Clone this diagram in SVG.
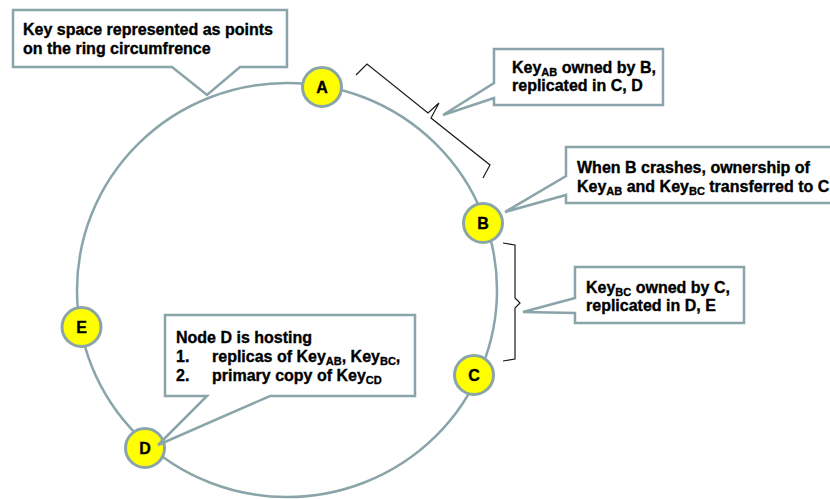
<svg xmlns="http://www.w3.org/2000/svg" width="830" height="499" viewBox="0 0 830 499">
  <style>
    .ring { fill: none; stroke: #8aa5a9; stroke-width: 2.5; }
    .node circle { fill: #ffff00; stroke: #8aa5a9; stroke-width: 3; }
    .node text { font-family: "Liberation Sans", Arial, sans-serif; font-weight: bold; font-size: 16px; fill: #000; stroke: #000; stroke-width: 0.35; text-anchor: middle; }
    .callout path { fill: #ffffff; stroke: #8aa5a9; stroke-width: 2.5; stroke-linejoin: miter; }
    .callout text { font-family: "Liberation Sans", Arial, sans-serif; font-weight: bold; font-size: 16px; fill: #000; stroke: #000; stroke-width: 0.35; }
    .sub { font-size: 11px; }
    .brace { fill: none; stroke: #1a1a1a; stroke-width: 1.2; stroke-linejoin: miter; }
  </style>

  <!-- hash ring and key-range braces -->
  <g id="connectors">
    <ellipse class="ring" cx="287" cy="290" rx="210" ry="207"/>
    <path class="brace" d="M356,75 L367,64 L428,113 L439,103 L431,118 L490,165 L483,178"/>
    <path class="brace" d="M503,243 L515,245 L515,298 L520,303 L515,308 L515,359 L503,361"/>
  </g>

  <!-- ring members -->
  <g id="node-A" class="node"><circle cx="322" cy="87" r="19.5"/><text x="322" y="93">A</text></g>
  <g id="node-B" class="node"><circle cx="483" cy="223" r="19.5"/><text x="483" y="229">B</text></g>
  <g id="node-C" class="node"><circle cx="474" cy="375" r="19.5"/><text x="474" y="381">C</text></g>
  <g id="node-D" class="node"><circle cx="145" cy="448" r="19.5"/><text x="145" y="454">D</text></g>
  <g id="node-E" class="node"><circle cx="81.5" cy="327" r="19.5"/><text x="81.5" y="333">E</text></g>

  <!-- callouts -->
  <g id="note-keyspace" class="callout">
    <path d="M13,10 H287 V67 H240 L207,95 L172,67 H13 Z"/>
    <text x="23" y="35">Key space represented as points</text>
    <text x="23" y="54">on the ring circumfrence</text>
  </g>

  <g id="note-keyAB" class="callout">
    <path d="M494,49 H663 V105 H494 V98 L443,115 L494,83 Z"/>
    <text x="512" y="73">Key<tspan class="sub" dy="3">AB</tspan><tspan dy="-3"> owned by B,</tspan></text>
    <text x="512" y="91">replicated in C, D</text>
  </g>

  <g id="note-crash" class="callout">
    <path d="M566,147 H832 V203 H566 V195 L505,212 L566,176 Z"/>
    <text x="577" y="173">When B crashes, ownership of</text>
    <text x="577" y="192">Key<tspan class="sub" dy="3">AB</tspan><tspan dy="-3"> and Key</tspan><tspan class="sub" dy="3">BC</tspan><tspan dy="-3"> transferred to C</tspan></text>
  </g>

  <g id="note-keyBC" class="callout">
    <path d="M575,267 H744 V323 H575 V313 L523,312 L575,298 Z"/>
    <text x="586" y="293">Key<tspan class="sub" dy="3">BC</tspan><tspan dy="-3"> owned by C,</tspan></text>
    <text x="586" y="311">replicated in D, E</text>
  </g>

  <g id="note-nodeD" class="callout">
    <path d="M165,315 H415 V396 H270 L158,445 L207,396 H165 Z"/>
    <text x="176" y="343">Node D is hosting</text>
    <text x="176" y="362">1.</text>
    <text x="212" y="362">replicas of Key<tspan class="sub" dy="3">AB</tspan><tspan dy="-3">, Key</tspan><tspan class="sub" dy="3">BC</tspan><tspan dy="-3">,</tspan></text>
    <text x="176" y="381">2.</text>
    <text x="212" y="381">primary copy of Key<tspan class="sub" dy="3">CD</tspan></text>
  </g>
</svg>
